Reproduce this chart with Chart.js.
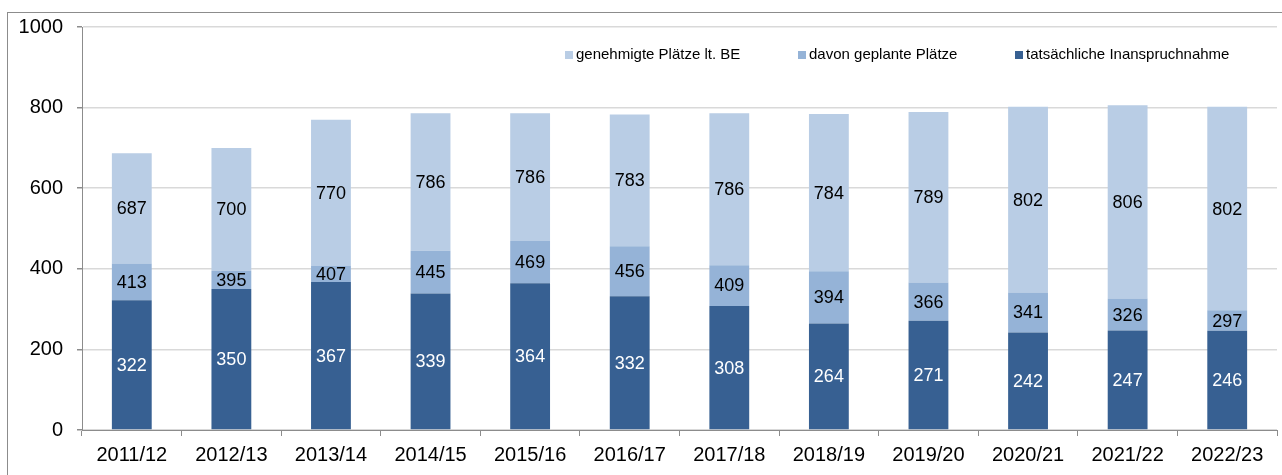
<!DOCTYPE html>
<html>
<head>
<meta charset="utf-8">
<script src="https://cdn.jsdelivr.net/npm/chart.js@4/dist/chart.umd.min.js"></script>
<style>
  html, body { margin: 0; padding: 0; background: #fff; }
  #wrap { position: relative; width: 1282px; height: 475px; }
  #frame { position: absolute; left: 7px; top: 12px; width: 1290px; height: 480px;
           border-left: 1px solid #8c8c8c; border-top: 1px solid #8c8c8c; box-sizing: border-box; }
  canvas { position: absolute; left: 0; top: 0; }
</style>
</head>
<body>
<div id="wrap">
  <div id="frame"></div>
  <canvas id="chart" width="1282" height="475"></canvas>
</div>
<script>
// school years
var years = ['2011/12', '2012/13', '2013/14', '2014/15', '2015/16', '2016/17',
             '2017/18', '2018/19', '2019/20', '2020/21', '2021/22', '2022/23'];
// cumulative values as labelled in the picture
var genehmigt = [687, 700, 770, 786, 786, 783, 786, 784, 789, 802, 806, 802];
var geplant   = [413, 395, 407, 445, 469, 456, 409, 394, 366, 341, 326, 297];
var tatsaechlich = [322, 350, 367, 339, 364, 332, 308, 264, 271, 242, 247, 246];
var yTicks = [0, 200, 400, 600, 800, 1000];

var FONT = "'Liberation Sans', Arial, sans-serif";

// segments are drawn stacked, labels show the cumulative value
var segPlanned = geplant.map(function (v, i) { return v - tatsaechlich[i]; });
var segApproved = genehmigt.map(function (v, i) { return v - geplant[i]; });

var labelPlugin = {
  id: 'segmentLabels',
  afterDatasetsDraw: function (chart) {
    var ctx = chart.ctx;
    var shown = [tatsaechlich, geplant, genehmigt];
    ctx.save();
    ctx.font = '18px ' + FONT;
    ctx.textAlign = 'center';
    ctx.textBaseline = 'middle';
    chart.data.datasets.forEach(function (ds, di) {
      chart.getDatasetMeta(di).data.forEach(function (bar, i) {
        ctx.fillStyle = di === 0 ? '#ffffff' : '#000000';
        ctx.fillText(String(shown[di][i]), bar.x, (bar.y + bar.base) / 2 + 1);
      });
    });
    ctx.restore();
  }
};

var legendPlugin = {
  id: 'innerLegend',
  afterDraw: function (chart) {
    var ctx = chart.ctx;
    var items = [
      { ds: 2, x: 565 },
      { ds: 1, x: 798 },
      { ds: 0, x: 1015 }
    ];
    ctx.save();
    ctx.font = '15px ' + FONT;
    ctx.textBaseline = 'middle';
    ctx.textAlign = 'left';
    items.forEach(function (it) {
      var ds = chart.data.datasets[it.ds];
      ctx.fillStyle = ds.backgroundColor;
      ctx.fillRect(it.x, 51, 8, 8);
      ctx.fillStyle = '#000';
      ctx.fillText(ds.label, it.x + 11, 55);
    });
    ctx.restore();
  }
};

new Chart(document.getElementById('chart'), {
  type: 'bar',
  data: {
    labels: years,
    datasets: [
      { label: 'tatsächliche Inanspruchnahme', data: tatsaechlich, backgroundColor: '#376092' },
      { label: 'davon geplante Plätze', data: segPlanned, backgroundColor: '#95B3D7' },
      { label: 'genehmigte Plätze lt. BE', data: segApproved, backgroundColor: '#B9CDE5' }
    ]
  },
  options: {
    responsive: false,
    animation: false,
    barPercentage: 0.4,
    categoryPercentage: 1.0,
    layout: { padding: { left: 0, top: 27, right: 5, bottom: 0 } },
    plugins: { legend: { display: false }, tooltip: { enabled: false } },
    scales: {
      x: {
        stacked: true,
        grid: { display: true, drawOnChartArea: false, offset: true, color: '#8c8c8c', tickLength: 6 },
        border: { color: '#8c8c8c' },
        ticks: { color: '#000', font: { family: FONT, size: 20 }, padding: 7, maxRotation: 0 },
        afterFit: function (scale) { scale.height = 45; }
      },
      y: {
        stacked: true,
        min: 0,
        max: 1000,
        afterBuildTicks: function (scale) {
          scale.ticks = yTicks.map(function (v) { return { value: v }; });
        },
        grid: { color: '#d9d9d9', lineWidth: 1.5, tickColor: '#8c8c8c', tickLength: 5 },
        border: { color: '#8c8c8c' },
        ticks: {
          color: '#000', font: { family: FONT, size: 20 }, padding: 14,
          callback: function (v) { return String(v); }
        },
        afterFit: function (scale) { scale.width = 82; }
      }
    }
  },
  plugins: [labelPlugin, legendPlugin]
});
</script>
</body>
</html>
